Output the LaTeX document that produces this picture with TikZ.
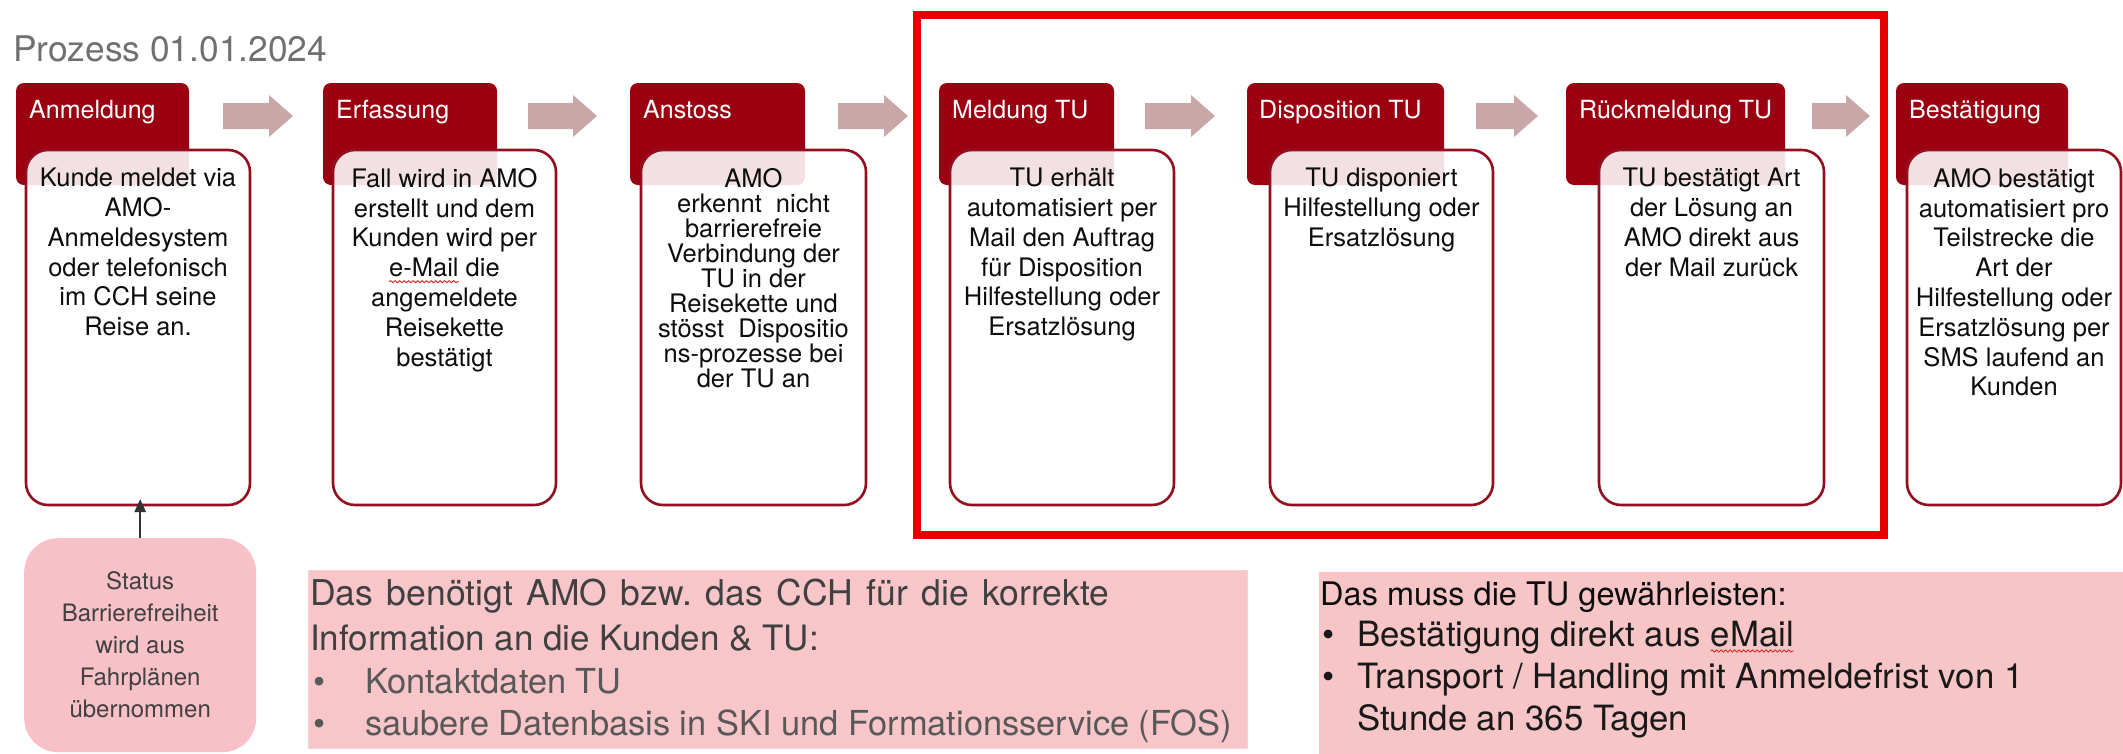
\documentclass[tikz,border=0pt]{standalone}
\usepackage{fontspec}
\setmainfont{TeX Gyre Heros}
\usetikzlibrary{arrows.meta,decorations.pathmorphing,calc}
\definecolor{hdrred}{HTML}{9B0011}
\definecolor{bordred}{HTML}{930F1F}
\definecolor{arrowpink}{HTML}{C9A6A8}
\definecolor{framered}{HTML}{E60000}
\definecolor{pinkA}{HTML}{F8C0C7}
\definecolor{pinkB}{HTML}{F8C6C9}
\definecolor{pinkC}{HTML}{F8C5C7}
\definecolor{pinkedge}{HTML}{F6D2D4}
\definecolor{titlegrey}{HTML}{707070}
\definecolor{darkgrey}{HTML}{404040}
\definecolor{midgrey}{HTML}{585858}
\definecolor{spellred}{HTML}{E02828}
\newlength\wavylen
\newcommand\wavy[1]{\settowidth{\wavylen}{#1}\rlap{\tikz[overlay,baseline=0pt]\draw[spellred,line width=0.9pt,decorate,decoration={snake,amplitude=1.1pt,segment length=4.5pt}] (0pt,-5pt) -- (\wavylen,-5pt);}#1}
\newcommand\barrow[2]{\fill[blockarrow] (#1,103) -- ({#2-24},103) -- ({#2-24},95) -- (#2,116) -- ({#2-24},137) -- ({#2-24},129) -- (#1,129) -- cycle;}
\newcommand\ws{\hspace{13.6pt}}
\begin{document}
\begin{tikzpicture}[x=1pt,y=-1pt,
  hdr/.style={fill=hdrred, rounded corners=8pt, anchor=north west, inner sep=0pt, outer sep=0pt, minimum height=102pt},
  cbox/.style={draw=bordred, line width=2.6pt, fill=white, fill opacity=0.88, rounded corners=22pt, anchor=north west, inner sep=0pt, outer sep=0pt, minimum height=355pt},
  htext/.style={anchor=base west, inner sep=0pt, text=white, font=\fontsize{25}{30}\selectfont},
  ctext/.style={anchor=north, inner sep=0pt, align=center, text=black!95, font=\fontsize{25.5}{29.8}\selectfont},
  blockarrow/.style={fill=arrowpink, draw=none},
  linetext/.style={anchor=base west, inner sep=0pt},
]
\useasboundingbox (0,0) rectangle (2123,753);

% title
\node[linetext, text=titlegrey, font=\fontsize{35.3}{40}\selectfont] (title) at (13,61) {Prozess 01.01.2024};

% red frame
\draw[framered, line width=8pt] (917,15) rectangle (1884,535);

% block arrows
\barrow{223}{293}
\barrow{528}{597}
\barrow{838}{908}
\barrow{1145}{1215}
\barrow{1476}{1538}
\barrow{1812}{1870}

% headers
\node[hdr, minimum width=173pt] (h1) at (16,83) {};
\node[hdr, minimum width=174pt] (h2) at (323,83) {};
\node[hdr, minimum width=175pt] (h3) at (630,83) {};
\node[hdr, minimum width=175pt] (h4) at (939,83) {};
\node[hdr, minimum width=197pt] (h5) at (1247,83) {};
\node[hdr, minimum width=219pt] (h6) at (1566,83) {};
\node[hdr, minimum width=172pt] (h7) at (1896,83) {};

\node[htext] (h1t) at (29,118) {Anmeldung};
\node[htext] (h2t) at (336,118) {Erfassung};
\node[htext] (h3t) at (643,118) {Anstoss};
\node[htext] (h4t) at (952,118) {Meldung TU};
\node[htext] (h5t) at (1259,118) {Disposition TU};
\node[htext] (h6t) at (1579,118) {Rückmeldung TU};
\node[htext] (h7t) at (1909,118) {Bestätigung};

% content boxes
\node[cbox, minimum width=224pt] (c1) at (26,150) {};
\node[cbox, minimum width=223pt] (c2) at (333,150) {};
\node[cbox, minimum width=225pt] (c3) at (641,150) {};
\node[cbox, minimum width=224pt] (c4) at (950,150) {};
\node[cbox, minimum width=223pt] (c5) at (1270,150) {};
\node[cbox, minimum width=225pt] (c6) at (1599,150) {};
\node[cbox, minimum width=214pt] (c7) at (1907,150) {};

\node[ctext] (c1t) at (138,168) {Kunde meldet via\\AMO-\\Anmeldesystem\\oder telefonisch\\im CCH seine\\Reise an.};
\node[ctext] (c2t) at (444.5,168) {Fall wird in AMO\\erstellt und dem\\Kunden wird per\\\wavy{e-Mail} die\\angemeldete\\Reisekette\\bestätigt};
\node[ctext, font=\fontsize{25.5}{25}\selectfont] (c3t) at (753.5,168) {AMO\\erkennt~ nicht\\barrierefreie\\Verbindung der\\TU in der\\Reisekette und\\stösst~ Dispositio\\ns-prozesse bei\\der TU an};
\node[ctext] (c4t) at (1062,168) {TU erhält\\automatisiert per\\Mail den Auftrag\\für Disposition\\Hilfestellung oder\\Ersatzlösung};
\node[ctext] (c5t) at (1381.5,168) {TU disponiert\\Hilfestellung oder\\Ersatzlösung};
\node[ctext] (c6t) at (1711.5,168) {TU bestätigt Art\\der Lösung an\\AMO direkt aus\\der Mail zurück};
\node[ctext] (c7t) at (2014,168) {AMO bestätigt\\automatisiert pro\\Teilstrecke die\\Art der\\Hilfestellung oder\\Ersatzlösung per\\SMS laufend an\\Kunden};

% status box
\node[fill=pinkA, rounded corners=34pt, anchor=north west, minimum width=232pt, minimum height=214pt, inner sep=0pt, align=center, text=darkgrey, font=\fontsize{24}{32}\selectfont] (st) at (24,538) {Status\\Barrierefreiheit\\wird aus\\Fahrplänen\\übernommen};
\draw[black!80, line width=2.5pt, -{Triangle[length=13pt,width=11pt]}] (st.north) -- ($(st.north |- c1.south)+(0,-6)$);

% middle info box
\node[draw=pinkedge, line width=1pt, fill=pinkB, anchor=north west, minimum width=939pt, minimum height=178pt, inner sep=0pt] (need) at (308,570) {};
\node[linetext, text=darkgrey, font=\fontsize{35.5}{40}\selectfont] (need1) at (310,605) {Das\ws benötigt\ws AMO\ws bzw.\ws das\ws CCH\ws für\ws die\ws korrekte};
\node[linetext, text=darkgrey, font=\fontsize{35}{40}\selectfont] (need2) at (310,650) {Information an die Kunden \& TU:};
\node[linetext, text=midgrey, font=\fontsize{34.4}{40}\selectfont] (needb1) at (313,693) {\textbullet};
\node[linetext, text=midgrey, font=\fontsize{34.4}{40}\selectfont] (need3) at (365,693) {Kontaktdaten TU};
\node[linetext, text=midgrey, font=\fontsize{34.4}{40}\selectfont] (needb2) at (313,735) {\textbullet};
\node[linetext, text=midgrey, font=\fontsize{34.4}{40}\selectfont] (need4) at (365,735) {saubere Datenbasis in SKI und Formationsservice (FOS)};

% right info box
\node[fill=pinkC, anchor=north west, minimum width=810pt, minimum height=190pt, inner sep=0pt] (tu) at (1319,572) {};
\node[linetext, text=black!95, font=\fontsize{32.5}{40}\selectfont] (tu1) at (1320,605) {Das muss die TU gewährleisten:};
\node[linetext, text=black!90, font=\fontsize{34.8}{40}\selectfont] (tub1) at (1322,646) {\textbullet};
\node[linetext, text=black!90, font=\fontsize{34.8}{40}\selectfont] (tu2) at (1357,646) {Bestätigung direkt aus \wavy{eMail}};
\node[linetext, text=black!90, font=\fontsize{34.8}{40}\selectfont] (tub2) at (1322,688) {\textbullet};
\node[linetext, text=black!90, font=\fontsize{34.8}{40}\selectfont] (tu3) at (1357,688) {Transport / Handling mit Anmeldefrist von 1};
\node[linetext, text=black!90, font=\fontsize{34.8}{40}\selectfont] (tu4) at (1357,730) {Stunde an 365 Tagen};
\end{tikzpicture}
\end{document}
